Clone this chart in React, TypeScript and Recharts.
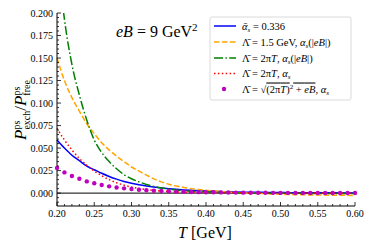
import { LineChart, Line, XAxis, YAxis, ReferenceLine, Customized } from "recharts"

const temps = [0.2, 0.21, 0.22, 0.23, 0.24, 0.25, 0.26, 0.27, 0.28, 0.29, 0.3, 0.31, 0.32, 0.33, 0.34, 0.35, 0.36, 0.37, 0.38, 0.39, 0.4, 0.41, 0.42, 0.43, 0.44, 0.45, 0.46, 0.47, 0.48, 0.49, 0.5, 0.51, 0.52, 0.53, 0.54, 0.55, 0.56, 0.57, 0.58, 0.59, 0.6]

// alpha_s bar = 0.336
const fixedAlpha = [0.059, 0.05, 0.042, 0.036, 0.03, 0.026, 0.022, 0.0185, 0.0155, 0.013, 0.011, 0.0093, 0.0079, 0.0067, 0.0057, 0.0049, 0.0042, 0.0036, 0.0031, 0.0027, 0.0023, 0.002, 0.0017, 0.0015, 0.0013, 0.0011, 0.001, 0.0009, 0.0008, 0.0007, 0.0006, 0.00055, 0.0005, 0.00045, 0.0004, 0.00036, 0.00032, 0.00029, 0.00026, 0.00023, 0.0002]
// Lambda = 1.5 GeV, alpha_s(|eB|)
const lambda15 = [0.15, 0.125, 0.106, 0.091, 0.077, 0.066, 0.056, 0.048, 0.041, 0.035, 0.029, 0.0245, 0.02, 0.0158, 0.0125, 0.0098, 0.0078, 0.0063, 0.005, 0.004, 0.0032, 0.0025, 0.0018, 0.0012, 0.0007, 0.0003, -0.0001, -0.0004, -0.0007, -0.001, -0.0013, -0.0015, -0.0017, -0.0019, -0.002, -0.0021, -0.0022, -0.0023, -0.0024, -0.0025, -0.0026]
// Lambda = 2 pi T, alpha_s(|eB|)
const lambdaTeB = [0.27, 0.193, 0.143, 0.109, 0.081, 0.059, 0.045, 0.035, 0.027, 0.0205, 0.016, 0.0125, 0.0096, 0.0074, 0.0057, 0.0045, 0.0035, 0.0027, 0.0021, 0.0016, 0.0012, 0.0009, 0.0006, 0.0004, 0.0002, 0.0001, 0, -0.0001, -0.00015, -0.0002, -0.0002, -0.00025, -0.00025, -0.0003, -0.0003, -0.0003, -0.0003, -0.0003, -0.0003, -0.0003, -0.0003]
// Lambda = 2 pi T, alpha_s
const lambdaT = [0.072, 0.059, 0.048, 0.0385, 0.031, 0.0245, 0.0193, 0.015, 0.0115, 0.0088, 0.0067, 0.0051, 0.0039, 0.003, 0.0023, 0.0018, 0.0014, 0.0011, 0.0009, 0.0007, 0.0006, 0.0005, 0.0004, 0.00035, 0.0003, 0.00027, 0.00024, 0.00021, 0.00019, 0.00017, 0.00015, 0.00014, 0.00013, 0.00012, 0.00011, 0.0001, 0.0001, 0.0001, 0.0001, 0.0001, 0.0001]
// Lambda = sqrt((2 pi T)^2 + eB), alpha_s
const lambdaSqrt = [0.028, 0.023, 0.019, 0.016, 0.013, 0.011, 0.009, 0.0075, 0.0063, 0.0053, 0.0045, 0.0038, 0.0032, 0.0027, 0.0023, 0.002, 0.0017, 0.0015, 0.0013, 0.0011, 0.001, 0.0009, 0.0008, 0.0007, 0.0006, 0.0005, 0.00045, 0.0004, 0.00035, 0.0003, 0.00027, 0.00024, 0.00021, 0.00019, 0.00017, 0.00015, 0.00013, 0.00012, 0.0001, 0.00009, 0.00008]

const xTicks = [0.2, 0.21, 0.22, 0.23, 0.24, 0.25, 0.26, 0.27, 0.28, 0.29, 0.3, 0.31, 0.32, 0.33, 0.34, 0.35, 0.36, 0.37, 0.38, 0.39, 0.4, 0.41, 0.42, 0.43, 0.44, 0.45, 0.46, 0.47, 0.48, 0.49, 0.5, 0.51, 0.52, 0.53, 0.54, 0.55, 0.56, 0.57, 0.58, 0.59, 0.6]
const yTicks = [-0.01, -0.005, 0, 0.005, 0.01, 0.015, 0.02, 0.025, 0.03, 0.035, 0.04, 0.045, 0.05, 0.055, 0.06, 0.065, 0.07, 0.075, 0.08, 0.085, 0.09, 0.095, 0.1, 0.105, 0.11, 0.115, 0.12, 0.125, 0.13, 0.135, 0.14, 0.145, 0.15, 0.155, 0.16, 0.165, 0.17, 0.175, 0.18, 0.185, 0.19, 0.195, 0.2]

const data = temps.map((t, i) => ({
  t,
  fixedAlpha: fixedAlpha[i],
  lambda15: lambda15[i],
  lambdaTeB: lambdaTeB[i],
  lambdaT: lambdaT[i],
  lambdaSqrt: lambdaSqrt[i],
}))

const FONT = '"Liberation Serif", "DejaVu Serif", serif'

const xMajor = (v: number) => Math.round(v * 1000) % 50 === 0
const yMajor = (v: number) => Math.round(v * 1000) % 25 === 0

function BottomTick(props: any) {
  const { x, y, payload } = props
  const major = xMajor(payload.value)
  return (
    <g>
      <line x1={x} x2={x} y1={y} y2={y - (major ? 4 : 2)} stroke="#000" strokeWidth={0.8} />
      {major && (
        <text x={x} y={y + 11} textAnchor="middle" fontSize={10} fontFamily={FONT} fill="#000">
          {payload.value.toFixed(2)}
        </text>
      )}
    </g>
  )
}

function TopTick(props: any) {
  const { x, y, payload } = props
  const major = xMajor(payload.value)
  return <line x1={x} x2={x} y1={y} y2={y + (major ? 4 : 2)} stroke="#000" strokeWidth={0.8} />
}

function LeftTick(props: any) {
  const { x, y, payload } = props
  const major = yMajor(payload.value)
  return (
    <g>
      <line x1={x} x2={x + (major ? 4 : 2)} y1={y} y2={y} stroke="#000" strokeWidth={0.8} />
      {major && payload.value >= 0 && (
        <text x={x - 4} y={y + 3.5} textAnchor="end" fontSize={10} fontFamily={FONT} fill="#000">
          {payload.value.toFixed(3)}
        </text>
      )}
    </g>
  )
}

function RightTick(props: any) {
  const { x, y, payload } = props
  const major = yMajor(payload.value)
  return <line x1={x} x2={x - (major ? 4 : 2)} y1={y} y2={y} stroke="#000" strokeWidth={0.8} />
}

const bar = "\u0304"

function Alpha() {
  return (
    <>
      <tspan fontStyle="italic">α</tspan>
      <tspan fontSize={7} dy={2} fontStyle="italic">s</tspan>
    </>
  )
}

function Annotations() {
  const rows = [18, 34, 50, 65.5, 81]
  return (
    <g fontFamily={FONT} fill="#000">
      <text x={108} y={29} fontSize={16}>
        <tspan fontStyle="italic">eB</tspan>
        <tspan> = 9 GeV</tspan>
        <tspan fontSize={11} dy={-6}>2</tspan>
      </text>

      <text x={197} y={230} fontSize={16} textAnchor="middle">
        <tspan fontStyle="italic">T</tspan>
        <tspan> [GeV]</tspan>
      </text>

      <text transform="translate(18,102) rotate(-90)" textAnchor="middle" fontSize={17}>
        <tspan fontStyle="italic">P</tspan>
        <tspan fontSize={10} dy={-6}>ps</tspan>
        <tspan fontSize={10} dx={-9} dy={10}>exch</tspan>
        <tspan dy={-4}>/</tspan>
        <tspan fontStyle="italic">P</tspan>
        <tspan fontSize={10} dy={-6}>ps</tspan>
        <tspan fontSize={10} dx={-9} dy={10}>free</tspan>
      </text>

      <rect x={202} y={9} width={141} height={83} rx={2} fill="#fff" fillOpacity={0.85} stroke="#d0d0d0" strokeWidth={0.8} />

      <line x1={206} x2={228} y1={rows[0]} y2={rows[0]} stroke="#0000ff" strokeWidth={1.5} />
      <line x1={206} x2={228} y1={rows[1]} y2={rows[1]} stroke="#ffa500" strokeWidth={1.5} strokeDasharray="5.5 2.4" />
      <line x1={206} x2={228} y1={rows[2]} y2={rows[2]} stroke="#008000" strokeWidth={1.5} strokeDasharray="9 2.4 1.5 2.4" />
      <line x1={206} x2={228} y1={rows[3]} y2={rows[3]} stroke="#ff0000" strokeWidth={1.5} strokeDasharray="1.5 2.4" />
      <circle cx={216} cy={rows[4]} r={2.2} fill="#bf00bf" />

      <text x={234} y={rows[0] + 3.5} fontSize={10.5}>
        <tspan fontStyle="italic">{"α" + bar}</tspan>
        <tspan fontSize={7} dy={2} fontStyle="italic">s</tspan>
        <tspan dy={-2}> = 0.336</tspan>
      </text>
      <text x={234} y={rows[1] + 3.5} fontSize={10.5}>
        <tspan>{"Λ" + bar} = 1.5 GeV, </tspan>
        <Alpha />
        <tspan dy={-2}>(|</tspan>
        <tspan fontStyle="italic">eB</tspan>
        <tspan>|)</tspan>
      </text>
      <text x={234} y={rows[2] + 3.5} fontSize={10.5}>
        <tspan>{"Λ" + bar} = 2π</tspan>
        <tspan fontStyle="italic">T</tspan>
        <tspan>, </tspan>
        <Alpha />
        <tspan dy={-2}>(|</tspan>
        <tspan fontStyle="italic">eB</tspan>
        <tspan>|)</tspan>
      </text>
      <text x={234} y={rows[3] + 3.5} fontSize={10.5}>
        <tspan>{"Λ" + bar} = 2π</tspan>
        <tspan fontStyle="italic">T</tspan>
        <tspan>, </tspan>
        <Alpha />
      </text>
      <text x={234} y={rows[4] + 3.5} fontSize={10.5}>
        <tspan>{"Λ" + bar} = √</tspan>
        <tspan style={{ textDecoration: "overline" }}>(2π</tspan>
        <tspan fontStyle="italic" style={{ textDecoration: "overline" }}>T</tspan>
        <tspan style={{ textDecoration: "overline" }}>)</tspan>
        <tspan fontSize={7} dy={-4}>2</tspan>
        <tspan dy={4} style={{ textDecoration: "overline" }}> + </tspan>
        <tspan fontStyle="italic" style={{ textDecoration: "overline" }}>eB</tspan>
        <tspan>, </tspan>
        <Alpha />
      </text>
    </g>
  )
}

export default function App() {
  return (
    <div style={{ width: 366, height: 241 }}>
      <LineChart width={366} height={241} data={data} margin={{ top: 5, right: 19, bottom: 0, left: 0 }}>
        <XAxis
          dataKey="t"
          type="number"
          domain={[0.2, 0.6]}
          ticks={xTicks}
          interval={0}
          height={43}
          tickSize={0}
          tickMargin={0}
          tick={<BottomTick />}
          tickLine={false}
          axisLine={{ stroke: "#000", strokeWidth: 1 }}
        />
        <XAxis
          xAxisId="top"
          orientation="top"
          dataKey="t"
          type="number"
          domain={[0.2, 0.6]}
          ticks={xTicks}
          interval={0}
          height={0}
          tickSize={0}
          tickMargin={0}
          tick={<TopTick />}
          tickLine={false}
          axisLine={{ stroke: "#000", strokeWidth: 1 }}
        />
        <YAxis
          type="number"
          domain={[-0.0143, 0.2]}
          allowDataOverflow
          ticks={yTicks}
          interval={0}
          width={49}
          tickSize={0}
          tickMargin={0}
          tick={<LeftTick />}
          tickLine={false}
          axisLine={{ stroke: "#000", strokeWidth: 1 }}
        />
        <YAxis
          yAxisId="right"
          orientation="right"
          type="number"
          domain={[-0.0143, 0.2]}
          allowDataOverflow
          ticks={yTicks}
          interval={0}
          width={0}
          tickSize={0}
          tickMargin={0}
          tick={<RightTick />}
          tickLine={false}
          axisLine={{ stroke: "#000", strokeWidth: 1 }}
        />
        <ReferenceLine y={0} stroke="#000" strokeWidth={1} />
        <Line type="monotone" dataKey="fixedAlpha" stroke="#0000ff" strokeWidth={1.5} dot={false} isAnimationActive={false} />
        <Line type="monotone" dataKey="lambda15" stroke="#ffa500" strokeWidth={1.5} strokeDasharray="5.5 2.4" dot={false} isAnimationActive={false} />
        <Line type="monotone" dataKey="lambdaTeB" stroke="#008000" strokeWidth={1.5} strokeDasharray="9 2.4 1.5 2.4" dot={false} isAnimationActive={false} />
        <Line type="monotone" dataKey="lambdaT" stroke="#ff0000" strokeWidth={1.5} strokeDasharray="1.5 2.4" dot={false} isAnimationActive={false} />
        <Line dataKey="lambdaSqrt" stroke="none" dot={{ r: 2.2, fill: "#bf00bf", stroke: "none" }} isAnimationActive={false} />
        <Customized component={Annotations} />
      </LineChart>
    </div>
  )
}
